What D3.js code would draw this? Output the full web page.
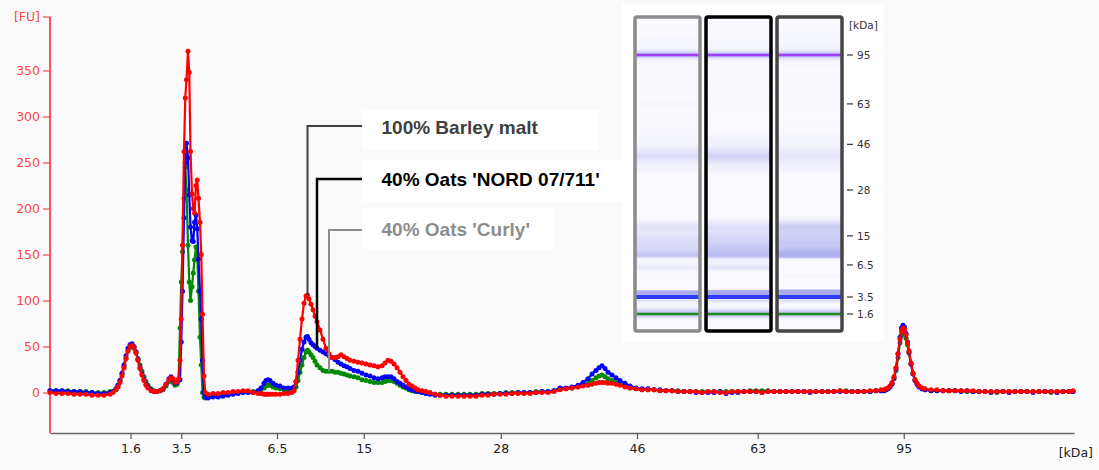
<!DOCTYPE html>
<html><head><meta charset="utf-8">
<script src="https://cdn.jsdelivr.net/npm/d3@7/dist/d3.min.js"></script>
<style>
html,body{margin:0;padding:0;background:#fafafa;}
svg{display:block;}
</style></head><body>
<svg id="chart" width="1099" height="470"></svg>
<script>
// ---------- data ----------
const ladderKda  = [1.6, 3.5, 6.5, 15, 28, 46, 63, 95];
const ladderTime = [18.22, 20.25, 24.08, 27.55, 33.03, 38.48, 43.31, 49.15]; // migration time (s)
const yTicks = [0, 50, 100, 150, 200, 250, 300, 350];
const seriesNames = ["100% Barley malt", "40% Oats 'NORD 07/711'", "40% Oats 'Curly'"];
const gelMarkerKda = [1.6, 3.5, 95];

const time = [
 15.00,15.24,15.48,15.72,15.96,16.20,16.44,16.68,16.92,17.16,17.40,
 17.52,17.64,17.72,17.80,17.88,17.96,18.04,18.12,18.20,18.28,18.36,18.44,18.52,18.60,18.68,18.76,18.84,18.92,19.04,19.16,19.28,19.40,19.52,19.64,19.76,19.84,19.92,20.00,20.08,20.14,
 20.20,20.25,20.30,20.36,20.41,20.46,20.52,20.57,20.62,20.68,20.73,20.78,20.84,20.89,20.94,21.00,21.05,21.10,21.16,21.21,
 21.32,21.52,21.72,21.92,22.12,22.32,22.52,22.72,22.92,23.12,23.32,23.44,23.56,23.64,23.72,23.80,23.92,24.04,24.20,24.36,24.52,24.68,
 24.76,24.84,24.92,25.00,25.08,25.16,25.24,25.30,25.36,25.44,25.52,25.60,25.68,25.80,25.92,26.04,26.16,26.28,26.40,26.52,26.64,26.76,26.88,27.00,27.16,27.32,27.48,27.64,27.80,27.96,28.12,28.28,28.40,28.52,28.64,28.76,28.88,29.00,29.12,29.24,29.36,29.48,29.60,29.72,29.88,30.04,30.20,30.40,30.60,
 30.84,31.08,31.32,31.56,31.80,32.04,32.28,32.52,32.76,33.00,33.24,33.48,33.72,33.96,34.20,34.44,34.68,34.92,35.16,35.40,
 35.64,35.88,36.12,36.32,36.52,36.68,36.84,36.96,37.08,37.20,37.32,37.48,37.64,37.80,38.00,38.20,38.44,38.68,
 38.92,39.16,39.40,39.64,39.88,40.12,40.36,40.60,40.84,41.08,41.32,41.56,41.80,42.04,42.28,42.52,42.76,43.00,43.24,43.48,43.72,43.96,44.20,44.44,44.68,44.92,45.16,45.40,45.64,45.88,46.12,46.36,46.60,46.84,47.08,47.32,47.56,47.80,48.04,48.24,
 48.36,48.44,48.52,48.60,48.68,48.76,48.84,48.92,49.00,49.06,49.12,49.18,49.24,49.30,49.36,49.44,49.52,49.60,49.68,49.76,49.88,50.00,
 50.24,50.48,50.72,50.96,51.20,51.44,51.68,51.92,52.16,52.40,52.64,52.88,53.12,53.36,53.60,53.84,54.08,54.32,54.56,54.80,55.04,55.28,55.52,55.76,55.92
];

const barley = [
 0,-1,-1,-1,-2,-2,-2,-3,-3,-3,-2,
 0,3,6,11,18,27,37,45,50,51,49,43,35,26,19,13,8,5,2,1,1,2,4,9,14,16,15,11,12,15,
 35,80,160,262,320,340,371,348,262,216,200,195,225,231,211,185,150,85,18,0,
 -2,-1,-1,0,0,1,1,2,2,0,-1,-1,-2,-2,-2,-2,-2,-2,-2,-1,-1,0,
 2,12,35,58,80,97,105,106,102,96,90,83,77,68,58,48,42,38,38,39,41,39,37,35,34,33,32,31,30,29,28,29,32,35,34,31,27,22,17,13,9,7,5,3,2,1,0,-2,-3,
 -4,-4,-4,-4,-4,-4,-3,-3,-2,-2,-2,-1,-1,-1,-1,0,0,0,1,3,
 4,5,6,7,8,9,10,11,11,11,10,10,9,8,6,5,4,3,
 3,3,2,2,2,1,1,1,1,0,1,1,0,0,1,1,1,1,1,0,1,1,1,1,1,1,1,1,1,1,1,1,2,1,1,1,1,2,2,3,
 3,4,5,7,11,17,27,42,58,67,70,69,63,54,45,32,21,14,10,7,5,4,
 3,3,2,2,2,2,2,2,1,1,1,1,1,1,1,1,1,1,1,1,1,1,1,1,2
];

const nord = [
 2,2,2,1,1,1,0,0,-1,-1,0,
 1,4,8,13,21,30,40,48,52,53,50,44,36,27,20,14,9,6,3,1,1,2,4,9,15,17,14,10,11,14,
 14,55,110,190,250,271,255,215,180,165,164,185,193,178,145,110,80,35,0,-5,
 -6,-5,-5,-4,-3,-2,-1,0,0,0,2,5,10,13,14,13,10,8,7,5,5,5,
 6,12,22,35,47,55,60,61,58,54,52,50,48,46,44,42,40,38,36,33,31,29,28,26,24,23,21,19,18,16,15,16,17,17,17,15,12,10,8,6,4,3,2,1,0,-1,-2,-3,-3,
 -3,-3,-3,-3,-3,-3,-2,-2,-2,-1,-1,-1,0,0,0,0,1,1,2,5,
 5,6,8,11,15,20,24,27,29,26,22,19,16,13,10,7,5,4,
 4,3,3,2,2,1,1,1,0,0,0,0,1,-1,0,0,1,1,1,0,1,1,1,1,1,1,1,0,1,1,1,1,1,1,1,1,1,1,2,2,
 2,3,4,6,10,16,26,42,60,70,73,71,64,55,44,31,20,13,9,6,4,3,
 2,2,2,2,2,1,2,1,1,1,0,1,1,0,1,1,1,0,1,1,1,0,1,1,1
];

const curly = [
 2,2,2,2,1,1,1,0,0,0,1,
 1,4,8,13,20,28,37,45,49,50,48,44,37,30,23,17,12,8,4,2,1,2,3,7,12,14,11,8,9,13,
 70,120,153,211,245,220,160,120,100,115,130,144,158,150,110,60,30,0,-5,-6,
 -5,-4,-3,-3,-2,-1,0,1,1,1,2,3,5,7,8,8,6,5,4,3,2,2,
 3,6,13,22,30,38,44,46,44,41,38,34,30,27,24,23,23,23,22,22,21,20,19,18,17,16,14,13,12,11,11,11,12,13,13,12,10,8,6,5,3,2,1,1,0,-1,-1,-2,-2,
 -2,-2,-2,-2,-2,-2,-1,-1,-1,-1,0,0,0,0,0,1,1,1,2,4,
 4,5,6,8,10,13,16,18,19,17,15,13,11,9,7,5,4,3,
 3,3,2,2,2,2,1,1,1,1,1,1,1,1,1,1,1,2,2,2,2,1,1,1,1,1,1,1,1,1,1,1,2,2,1,1,1,1,2,2,
 2,3,4,6,9,15,24,38,54,62,65,64,59,52,43,31,21,14,10,7,4,3,
 2,2,2,2,2,2,1,1,1,1,1,0,1,1,1,1,1,1,1,1,0,1,1,1,1
];

// label anchor times (where each leader line meets its trace)
const anchorTime = [25.30, 25.68, 26.16];

// ---------- drawing ----------
const svg = d3.select("#chart");
const font = "'DejaVu Sans', Verdana, sans-serif";
const axisRed = "#ff4646";

svg.append("rect").attr("width", 1099).attr("height", 470).attr("fill", "#fafafa");

const x = d3.scaleLinear().domain([15, 55.96]).range([50, 1074]);
const y = d3.scaleLinear().domain([-44, 407]).range([433, 18]);

const series = [
  {name: seriesNames[0], values: barley, color: "#ff0000", text: "#404040", lead: "#404040", border: "#454545"},
  {name: seriesNames[1], values: nord,   color: "#0000ff", text: "#000000", lead: "#000000", border: "#000000"},
  {name: seriesNames[2], values: curly,  color: "#008a00", text: "#8c8c8c", lead: "#8c8c8c", border: "#8a8a8a"}
];

// ---- gel image ----
const gel = svg.append("g");
gel.append("rect").attr("x", 622).attr("y", 4).attr("width", 262).attr("height", 338).attr("fill", "#ffffff");
const gelTop = 17, gelBottom = 331;
const gelY = d3.scaleLinear().domain([ladderTime[0], ladderTime[7]]).range([314, 55]);
const laneOrder = [2, 1, 0];              // Curly, NORD, Barley
const laneLeft = [635, 706, 777], laneW = 65;
const defs = svg.append("defs");
const op = v => 0.45 * (1 - Math.exp(-Math.max(v, 0) / 40));
laneOrder.forEach((si, li) => {
  const s = series[si];
  const grad = defs.append("linearGradient").attr("id", "lane" + li)
    .attr("gradientUnits", "userSpaceOnUse")
    .attr("x1", 0).attr("x2", 0).attr("y1", gelTop).attr("y2", gelBottom);
  const pts = time.map((t, j) => ({off: (gelY(t) - gelTop) / (gelBottom - gelTop), v: s.values[j]}))
    .sort((a, b) => a.off - b.off);
  pts.forEach(p => grad.append("stop")
    .attr("offset", Math.max(0, Math.min(1, p.off)))
    .attr("stop-color", "#4646dc").attr("stop-opacity", op(p.v)));
  const lx = laneLeft[li];
  gel.append("rect").attr("x", lx).attr("y", gelTop).attr("width", laneW).attr("height", gelBottom - gelTop)
    .attr("fill", "#fafafe");
  gel.append("rect").attr("x", lx).attr("y", gelTop).attr("width", laneW).attr("height", gelBottom - gelTop)
    .attr("fill", `url(#lane${li})`);
  const mColors = ["#1f8a1f", "#2f3cff", "#a040ff"], mW = [2.5, 4, 2.5];
  gelMarkerKda.forEach((k, mi) => {
    const yy = gelY(ladderTime[ladderKda.indexOf(k)]);
    gel.append("line").attr("x1", lx).attr("x2", lx + laneW).attr("y1", yy).attr("y2", yy)
      .attr("stroke", mColors[mi]).attr("stroke-width", mW[mi]);
  });
  gel.append("rect").attr("x", lx).attr("y", gelTop).attr("width", laneW).attr("height", gelBottom - gelTop)
    .attr("fill", "none").attr("stroke", s.border).attr("stroke-width", 3.5).attr("rx", 2);
});
gel.append("text").attr("x", 849).attr("y", 29).text("[kDa]")
  .attr("font-family", font).attr("font-size", 10.5).attr("fill", "#333");
ladderKda.forEach((k, i) => {
  const yy = gelY(ladderTime[i]);
  gel.append("line").attr("x1", 847).attr("x2", 853).attr("y1", yy).attr("y2", yy)
    .attr("stroke", "#333").attr("stroke-width", 1.2);
  gel.append("text").attr("x", 857).attr("y", yy).attr("dy", "0.36em").text(k)
    .attr("font-family", font).attr("font-size", 10.5).attr("fill", "#333");
});

// ---- axes ----
const yAxis = svg.append("g").attr("transform", "translate(50,0)")
  .call(d3.axisLeft(y).tickValues(yTicks).tickSize(7).tickSizeOuter(0).tickPadding(3));
yAxis.select(".domain").attr("stroke", axisRed).attr("stroke-width", 1.5).attr("d", "M0,17V433");
yAxis.selectAll(".tick line").attr("stroke", axisRed).attr("stroke-width", 1.2);
yAxis.selectAll("text").attr("fill", axisRed).attr("font-family", font).attr("font-size", 12.5);
yAxis.append("line").attr("x1", -7).attr("x2", 0).attr("y1", 17).attr("y2", 17)
  .attr("stroke", axisRed).attr("stroke-width", 1.2);
svg.append("text").attr("x", 40).attr("y", 21).attr("text-anchor", "end").text("[FU]")
  .attr("font-family", font).attr("font-size", 12.5).attr("fill", axisRed);

const xAxis = svg.append("g").attr("transform", "translate(0,433)")
  .call(d3.axisBottom(x).tickValues(ladderTime).tickFormat((d, i) => ladderKda[i]).tickSize(6).tickSizeOuter(0).tickPadding(5));
xAxis.select(".domain").attr("stroke", "#666").attr("stroke-width", 1.5);
xAxis.selectAll(".tick line").attr("stroke", "#555").attr("stroke-width", 1.2);
xAxis.selectAll("text").attr("fill", "#222").attr("font-family", font).attr("font-size", 12.5);
svg.append("text").attr("x", 1093).attr("y", 457).attr("text-anchor", "end").text("[kDa]")
  .attr("font-family", font).attr("font-size", 12.5).attr("fill", "#222");
svg.append("line").attr("x1", 50).attr("x2", 50).attr("y1", 17).attr("y2", 433)
  .attr("stroke", axisRed).attr("stroke-width", 1.5);

// ---- traces ----
const line = d3.line().x(d => x(d.t)).y(d => y(d.v));
[2, 1, 0].forEach(si => {
  const s = series[si];
  const pts = time.map((t, j) => ({t, v: s.values[j]}));
  const g = svg.append("g");
  g.append("path").datum(pts).attr("d", line).attr("fill", "none")
    .attr("stroke", s.color).attr("stroke-width", 2.2)
    .attr("stroke-linejoin", "round").attr("stroke-linecap", "round");
  g.selectAll("circle").data(pts).join("circle")
    .attr("cx", d => x(d.t)).attr("cy", d => y(d.v)).attr("r", 2.5).attr("fill", s.color);
});

// ---- labels with leader lines ----
const boxes = [[363, 110, 236, 40], [363, 160, 262, 42], [363, 208, 190, 41]];
const baselines = [134, 186, 236];
const leadY = [126, 179, 230];
const leadW = [2, 2.5, 2];
series.forEach((s, i) => {
  const b = boxes[i];
  svg.append("rect").attr("x", b[0]).attr("y", b[1]).attr("width", b[2]).attr("height", b[3]).attr("fill", "#ffffff");
  const idx = d3.minIndex(time, t => Math.abs(t - anchorTime[i]));
  const ax = x(anchorTime[i]), ay = y(s.values[idx]);
  svg.append("path").attr("d", `M${ax},${ay}V${leadY[i]}H${b[0] - 1}`)
    .attr("fill", "none").attr("stroke", s.lead).attr("stroke-width", leadW[i]);
  svg.append("text").attr("x", 381.5).attr("y", baselines[i]).text(s.name)
    .attr("font-family", "'Liberation Sans', Arial, sans-serif").attr("font-weight", "bold")
    .attr("font-size", 19).attr("fill", s.text);
});
</script>
</body></html>
